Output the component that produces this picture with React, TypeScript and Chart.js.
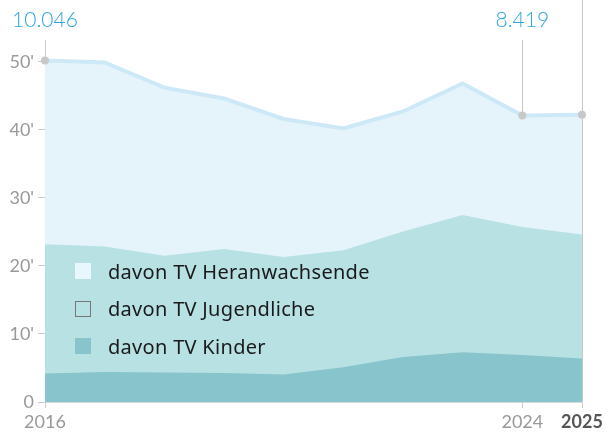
import React, { useEffect, useRef } from "react";
import { Chart, registerables } from "chart.js";

Chart.register(...registerables);

const years = ["2016", "2017", "2018", "2019", "2020", "2021", "2022", "2023", "2024", "2025"];
const kinder = [4.2, 4.4, 4.35, 4.25, 4.05, 5.1, 6.6, 7.3, 6.9, 6.4];
const jugendliche = [19.0, 18.45, 17.15, 18.25, 17.25, 17.2, 18.45, 20.2, 18.8, 18.2];
const heranwachsende = [27.0, 27.05, 24.7, 22.1, 20.3, 17.9, 17.65, 19.3, 16.4, 17.6];
const yTicks = [0, 10, 20, 30, 40, 50];
const shownYearIdx = [0, 8, 9];
const annotationIdx = [0, 8];
const annotationText = ["10.046", "8.419"];
const legendItems = ["davon TV Heranwachsende", "davon TV Jugendliche", "davon TV Kinder"];

const FONT = "Lato, 'Noto Sans', sans-serif";
const LEGEND_FONT = "'Noto Sans', Lato, sans-serif";

export default function App() {
  const ref = useRef<HTMLCanvasElement | null>(null);

  useEffect(() => {
    if (!ref.current) return;
    const overlay = {
      id: "overlay",
      afterDatasetsDraw(chart: any) {
        const ctx = chart.ctx;
        const xs = chart.scales.x;
        const area = chart.chartArea;
        const meta = chart.getDatasetMeta(2);
        ctx.save();
        ctx.strokeStyle = "#c8c8c8";
        ctx.lineWidth = 1;
        const x24 = Math.round(xs.getPixelForValue(8)) + 0.5;
        ctx.beginPath();
        ctx.moveTo(x24, area.top);
        ctx.lineTo(x24, meta.data[8].y);
        ctx.stroke();
        const x25 = Math.round(xs.getPixelForValue(9)) + 0.5;
        ctx.beginPath();
        ctx.moveTo(x25, 0);
        ctx.lineTo(x25, area.bottom);
        ctx.stroke();
        ctx.fillStyle = "#c8c8c8";
        [0, 8, 9].forEach((i) => {
          const p = meta.data[i];
          ctx.beginPath();
          ctx.arc(p.x, p.y, 4, 0, Math.PI * 2);
          ctx.fill();
        });
        ctx.fillStyle = "#2ba4dc";
        ctx.font = `300 21px ${FONT}`;
        ctx.textAlign = "center";
        ctx.textBaseline = "middle";
        annotationIdx.forEach((idx, k) => {
          ctx.fillText(annotationText[k], xs.getPixelForValue(idx), 20);
        });
        ctx.restore();
      },
    };

    const chart = new Chart(ref.current, {
      type: "line",
      data: {
        labels: years,
        datasets: [
          {
            label: legendItems[2],
            data: kinder,
            backgroundColor: "#87c4cb",
            borderWidth: 0,
            fill: "origin",
            pointRadius: 0,
            tension: 0,
          },
          {
            label: legendItems[1],
            data: jugendliche,
            backgroundColor: "#b8e1e4",
            borderWidth: 0,
            fill: "origin",
            pointRadius: 0,
            tension: 0,
          },
          {
            label: legendItems[0],
            data: heranwachsende,
            backgroundColor: "#e5f4fb",
            borderColor: "#cde9f7",
            borderWidth: 4,
            fill: "origin",
            pointRadius: 0,
            tension: 0,
            clip: false as any,
          },
        ],
      },
      options: {
        animation: false,
        responsive: false,
        devicePixelRatio: 1,
        layout: { padding: { top: 40, right: 24, left: 0, bottom: 0 } },
        plugins: { legend: { display: false }, tooltip: { enabled: false } },
        scales: {
          x: {
            type: "category",
            afterFit: (s: any) => {
              s.height = 36;
            },
            grid: {
              drawOnChartArea: false,
              drawTicks: true,
              tickLength: 6,
              color: (c: any) => (shownYearIdx.includes(c.index) ? "#cccccc" : "rgba(0,0,0,0)"),
            },
            border: { display: true, color: "#d8d8d8" },
            ticks: {
              autoSkip: false,
              maxRotation: 0,
              padding: 3,
              callback: (_v: any, i: number) => (shownYearIdx.includes(i) ? years[i] : ""),
              color: (c: any) => (c.index === 9 ? "#555555" : "#999999"),
              font: (c: any) => ({ family: FONT, size: 18, weight: c.index === 9 ? "bold" : "normal" }),
            },
          },
          y: {
            stacked: true,
            min: 0,
            max: 53.2,
            afterFit: (s: any) => {
              s.width = 45;
            },
            afterBuildTicks: (s: any) => {
              s.ticks = yTicks.map((v) => ({ value: v }));
            },
            grid: { drawOnChartArea: false, drawTicks: true, tickLength: 7, color: "#cccccc" },
            border: { display: true, color: "#cccccc" },
            ticks: {
              padding: 4,
              color: "#999999",
              font: { family: FONT, size: 18 },
              callback: (v: any) => (v === 0 ? "0" : v + "'"),
            },
          },
        },
      },
      plugins: [overlay],
    });
    return () => chart.destroy();
  }, []);

  const swatches = [
    { bg: "#e8f6fd", border: "none" },
    { bg: "transparent", border: "1.5px solid #777" },
    { bg: "#87c4cb", border: "none" },
  ];

  return (
    <div style={{ position: "absolute", left: 0, top: 0, width: 606, height: 438 }}>
      <canvas ref={ref} width={606} height={438} style={{ display: "block" }} />
      {legendItems.map((t, i) => (
        <div
          key={t}
          style={{
            position: "absolute",
            left: 75,
            top: 259 + i * 37.5,
            height: 24,
            display: "flex",
            alignItems: "center",
            fontFamily: LEGEND_FONT,
            fontSize: 20,
            letterSpacing: 0.3,
            color: "#1a1a1a",
            whiteSpace: "nowrap",
          }}
        >
          <span
            style={{
              display: "inline-block",
              width: 16,
              height: 16,
              boxSizing: "border-box",
              background: swatches[i].bg,
              border: swatches[i].border,
              marginRight: 17,
            }}
          />
          {t}
        </div>
      ))}
    </div>
  );
}
